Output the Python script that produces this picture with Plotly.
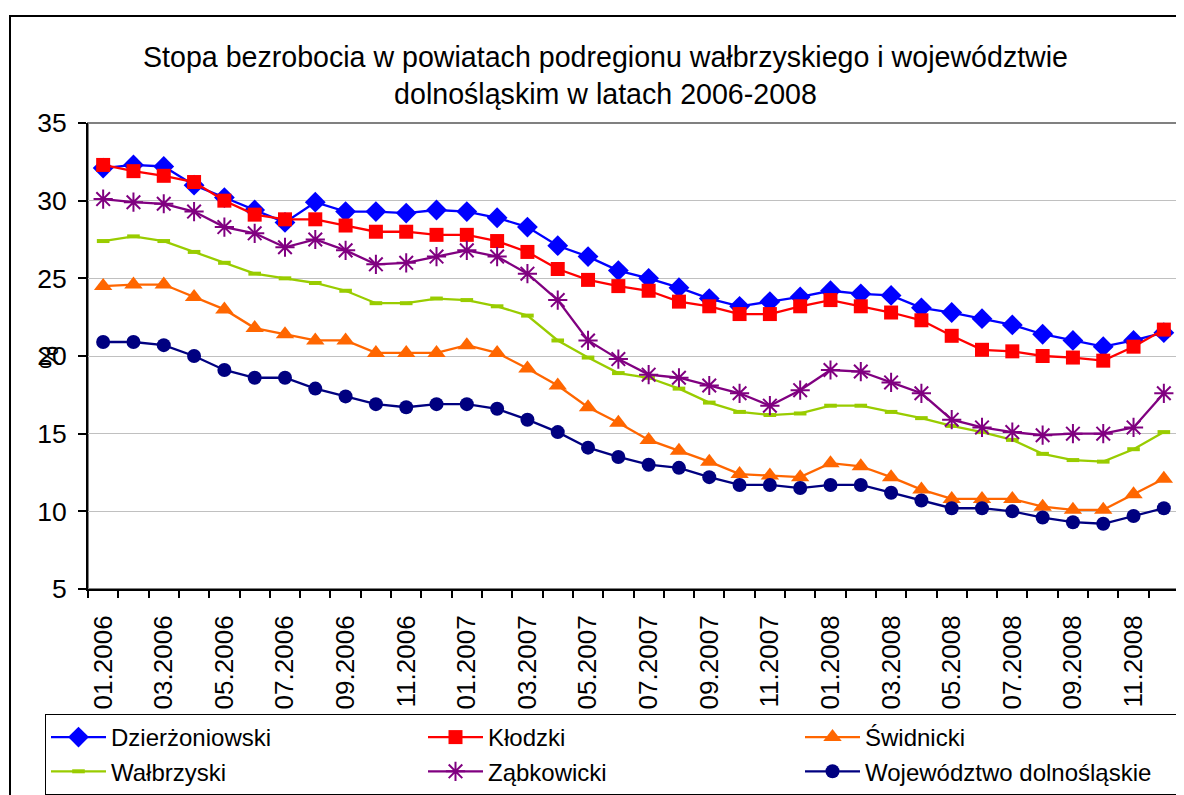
import plotly.graph_objects as go

months = ["01.2006", "02.2006", "03.2006", "04.2006", "05.2006", "06.2006",
          "07.2006", "08.2006", "09.2006", "10.2006", "11.2006", "12.2006",
          "01.2007", "02.2007", "03.2007", "04.2007", "05.2007", "06.2007",
          "07.2007", "08.2007", "09.2007", "10.2007", "11.2007", "12.2007",
          "01.2008", "02.2008", "03.2008", "04.2008", "05.2008", "06.2008",
          "07.2008", "08.2008", "09.2008", "10.2008", "11.2008", "12.2008"]

dzierzoniowski = [32.1, 32.3, 32.2, 31.0, 30.2, 29.4, 28.6, 29.9, 29.3, 29.3, 29.2, 29.4,
                  29.3, 28.9, 28.3, 27.1, 26.4, 25.5, 25.0, 24.4, 23.7, 23.2, 23.5, 23.8,
                  24.2, 24.0, 23.9, 23.1, 22.8, 22.4, 22.0, 21.4, 21.0, 20.6, 21.0, 21.5]
klodzki = [32.3, 31.9, 31.6, 31.2, 30.0, 29.1, 28.8, 28.8, 28.4, 28.0, 28.0, 27.8,
           27.8, 27.4, 26.7, 25.6, 24.9, 24.5, 24.2, 23.5, 23.2, 22.7, 22.7, 23.2,
           23.6, 23.2, 22.8, 22.3, 21.3, 20.4, 20.3, 20.0, 19.9, 19.7, 20.6, 21.7]
swidnicki = [24.5, 24.6, 24.6, 23.8, 23.0, 21.8, 21.4, 21.0, 21.0, 20.2, 20.2, 20.2,
             20.7, 20.2, 19.2, 18.1, 16.7, 15.7, 14.6, 13.9, 13.2, 12.4, 12.3, 12.2,
             13.1, 12.9, 12.2, 11.4, 10.8, 10.8, 10.8, 10.3, 10.1, 10.1, 11.1, 12.1]
walbrzyski = [27.4, 27.7, 27.4, 26.7, 26.0, 25.3, 25.0, 24.7, 24.2, 23.4, 23.4, 23.7,
              23.6, 23.2, 22.6, 21.0, 19.9, 18.9, 18.6, 17.9, 17.0, 16.4, 16.2, 16.3,
              16.8, 16.8, 16.4, 16.0, 15.5, 15.1, 14.6, 13.7, 13.3, 13.2, 14.0, 15.1]
zabkowicki = [30.1, 29.9, 29.8, 29.3, 28.3, 27.9, 27.0, 27.5, 26.8, 25.9, 26.0, 26.4,
              26.8, 26.4, 25.3, 23.6, 21.0, 19.8, 18.8, 18.6, 18.1, 17.6, 16.8, 17.8,
              19.1, 19.0, 18.3, 17.6, 15.9, 15.4, 15.1, 14.9, 15.0, 15.0, 15.4, 17.6]
wojewodztwo = [20.9, 20.9, 20.7, 20.0, 19.1, 18.6, 18.6, 17.9, 17.4, 16.9, 16.7, 16.9,
               16.9, 16.6, 15.9, 15.1, 14.1, 13.5, 13.0, 12.8, 12.2, 11.7, 11.7, 11.5,
               11.7, 11.7, 11.2, 10.7, 10.2, 10.2, 10.0, 9.6, 9.3, 9.2, 9.7, 10.2]

series_names = ["Dzierżoniowski", "Kłodzki", "Świdnicki",
                "Wałbrzyski", "Ząbkowicki", "Województwo dolnośląskie"]
series_values = [dzierzoniowski, klodzki, swidnicki, walbrzyski, zabkowicki, wojewodztwo]
colors = ["#0000FF", "#FF0000", "#FF6600", "#99CC00", "#800080", "#000080"]
markers = [
    dict(symbol="diamond", size=16),
    dict(symbol="square", size=14),
    dict(symbol="triangle-up", size=16),
    dict(symbol="line-ew", size=9, line=dict(width=4, color="#99CC00")),
    dict(symbol="asterisk-open", size=16, line=dict(width=2, color="#800080")),
    dict(symbol="circle", size=14),
]

FONT = "Arial, 'Liberation Sans', sans-serif"
OFF = 8  # page body margin of the html page
W, H = 1184 - OFF, 795 - OFF
L, R, T, B = 80, 5, 115, 206
PW, PH = W - L - R, H - T - B

x_idx = list(range(len(months)))

fig = go.Figure()
for name, vals, col, mk in zip(series_names, series_values, colors, markers):
    m = dict(color=col, **mk)
    fig.add_trace(go.Scatter(
        x=x_idx, y=vals, name=name, mode="lines+markers",
        line=dict(color=col, width=2.3), marker=m,
    ))

# helpers: convert screenshot pixel coordinates to paper fractions
def px_x(p):
    return (p - OFF - L) / PW

def px_y(p):
    return (H - B - (p - OFF)) / PH

fig.update_layout(
    width=W, height=H, autosize=False,
    margin=dict(l=L, r=R, t=T, b=B, autoexpand=False),
    paper_bgcolor="white", plot_bgcolor="white",
    font=dict(family=FONT, color="black"),
    title=dict(
        text="Stopa bezrobocia w powiatach podregionu wałbrzyskiego i województwie<br>dolnośląskim w latach 2006-2008",
        x=(605.5 - OFF) / W, xanchor="center", xref="container",
        y=1 - 59 / H, yanchor="top", yref="container",
        font=dict(size=28.6, family=FONT, color="black"),
    ),
    showlegend=True,
    legend=dict(
        orientation="h",
        x=px_x(45), xanchor="left",
        y=px_y(714), yanchor="top",
        bordercolor="black", borderwidth=1, bgcolor="white",
        font=dict(size=24, family=FONT, color="black"),
        itemwidth=55,
        entrywidth=307, entrywidthmode="pixels",
        tracegroupgap=0,
    ),
    xaxis=dict(
        range=[-0.5, len(months) - 0.5],
        tickmode="array",
        tickvals=x_idx[::2], ticktext=months[::2],
        tickangle=-90,
        ticks="", ticklabelstandoff=14,
        tickfont=dict(size=26, family=FONT, color="black"),
        showgrid=False, zeroline=False, automargin=False,
        showline=True, linecolor="black", linewidth=2,
        minor=dict(tickvals=[i - 0.5 for i in range(len(months) + 1)],
                   ticks="outside", ticklen=7, tickcolor="black", tickwidth=1.5,
                   showgrid=False),
    ),
    yaxis=dict(
        range=[5, 35], dtick=5, tick0=5,
        ticks="outside", ticklen=8, tickcolor="black", tickwidth=1.5,
        ticklabelstandoff=6,
        tickfont=dict(size=26.5, family=FONT, color="black"),
        showgrid=True, gridcolor="#C0C0C0", gridwidth=1,
        zeroline=False, automargin=False,
        showline=True, linecolor="black", linewidth=2,
    ),
    shapes=[
        dict(type="rect", xref="paper", yref="paper", x0=0, x1=1, y0=0, y1=1,
             line=dict(color="#808080", width=2), layer="below"),
        dict(type="rect", xref="paper", yref="paper",
             x0=px_x(10), x1=px_x(1250), y0=px_y(850), y1=px_y(16),
             line=dict(color="black", width=2), layer="below"),
    ],
    annotations=[
        dict(text="%", textangle=-90, xref="paper", yref="paper",
             x=px_x(32), y=px_y(357), showarrow=False,
             font=dict(size=26, family=FONT, color="black")),
    ],
)

fig.write_html("out.html")
